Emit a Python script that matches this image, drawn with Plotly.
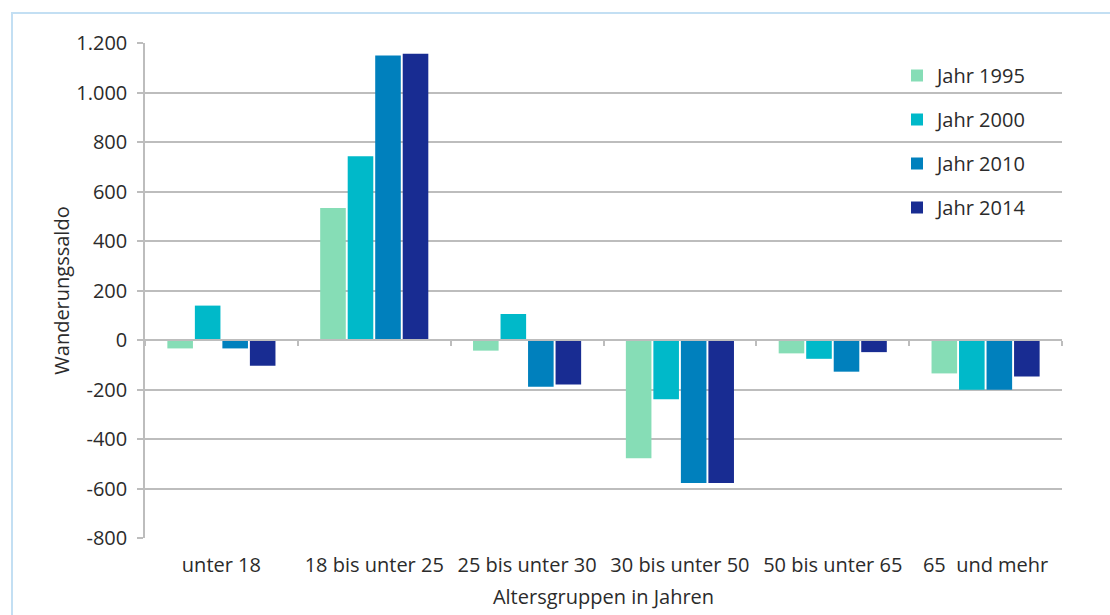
import plotly.graph_objects as go

categories = ["unter 18", "18 bis unter 25", "25 bis unter 30", "30 bis unter 50", "50 bis unter 65", "65  und mehr"]
series_names = ["Jahr 1995", "Jahr 2000", "Jahr 2010", "Jahr 2014"]
jahr_1995 = [-34, 533, -43, -478, -54, -135]
jahr_2000 = [139, 742, 105, -239, -76, -201]
jahr_2010 = [-34, 1150, -189, -578, -128, -201]
jahr_2014 = [-104, 1157, -180, -578, -49, -147]
colors = ["#86DDB6", "#00B9C9", "#0080BD", "#182C92"]
y_tickvals = [-800, -600, -400, -200, 0, 200, 400, 600, 800, 1000, 1200]
y_ticktext = ["-800", "-600", "-400", "-200", "0", "200", "400", "600", "800", "1.000", "1.200"]

W, H = 1110, 615
ML, MR, MT, MB = 145, 48, 43, 77
PW, PH = W - ML - MR, H - MT - MB

FONT = "Open Sans"
TXT = "#2b2b2b"
GRID = "#BDBDBD"
FS = 20

fig = go.Figure()
for name, vals, col in zip(series_names, [jahr_1995, jahr_2000, jahr_2010, jahr_2014], colors):
    fig.add_trace(go.Bar(
        x=categories, y=vals, name=name, legendgroup=name,
        marker=dict(color=col, line=dict(width=0)),
    ))

# helper trace for the category axis drawn along the zero line
fig.add_trace(go.Scatter(
    x=categories, y=[0] * len(categories), xaxis="x2", mode="markers",
    marker=dict(opacity=0), showlegend=False, hoverinfo="skip",
))

def px2paper_x(px):
    return (px - ML) / PW

def px2paper_y(py):
    return (H - MB - py) / PH

fig.update_layout(
    width=W, height=H,
    margin=dict(l=ML, r=MR, t=MT, b=MB, pad=0),
    paper_bgcolor="white", plot_bgcolor="white",
    font=dict(family=FONT, size=FS, color=TXT),
    barmode="group", bargap=0.28, bargroupgap=0.07,
    xaxis=dict(
        type="category", categoryorder="array", categoryarray=categories,
        range=[-0.5, len(categories) - 0.5],
        showline=False, showgrid=False, ticks="", zeroline=False,
        tickfont=dict(size=FS, color=TXT),
        title=dict(text="Altersgruppen in Jahren", font=dict(size=FS, color=TXT), standoff=12),
        ticklabelstandoff=13,
    ),
    xaxis2=dict(
        type="category", categoryorder="array", categoryarray=categories,
        range=[-0.5, len(categories) - 0.5],
        overlaying="x", anchor="free", position=0.4,
        showline=True, linecolor=GRID, linewidth=1.5,
        ticks="outside", ticklen=5, tickcolor=GRID, tickwidth=1.5,
        tickson="boundaries", showticklabels=False, showgrid=False, zeroline=False,
    ),
    yaxis=dict(
        range=[-800, 1200], tickvals=y_tickvals, ticktext=y_ticktext,
        showgrid=True, gridcolor=GRID, gridwidth=1.5,
        showline=True, linecolor=GRID, linewidth=1.5,
        ticks="outside", ticklen=6, tickcolor=GRID, tickwidth=1.5,
        zeroline=False, ticklabelstandoff=6,
        tickfont=dict(size=FS, color=TXT),
        title=dict(text="Wanderungssaldo", font=dict(size=FS, color=TXT), standoff=1),
    ),
    legend=dict(
        x=px2paper_x(897), y=px2paper_y(56), xanchor="left", yanchor="top",
        bgcolor="rgba(0,0,0,0)", font=dict(size=FS, color=TXT),
        tracegroupgap=15, traceorder="grouped",
    ),
    showlegend=True,
    shapes=[dict(
        type="rect", xref="paper", yref="paper",
        x0=px2paper_x(12), x1=px2paper_x(1125),
        y0=px2paper_y(630), y1=px2paper_y(13),
        line=dict(color="#C3DFF3", width=2), fillcolor="rgba(0,0,0,0)", layer="below",
    )],
)

fig.write_html("out.html")
